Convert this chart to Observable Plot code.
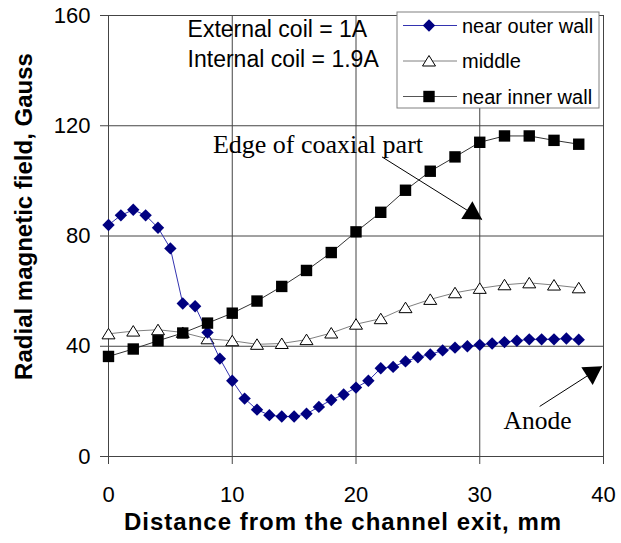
<!DOCTYPE html>
<html><head><meta charset="utf-8">
<script src="https://cdn.jsdelivr.net/npm/d3@7"></script>
<script src="https://cdn.jsdelivr.net/npm/@observablehq/plot@0.6"></script>
<style>body{margin:0;background:#fff;} svg{display:block;}</style>
</head><body><div id="chart"></div>
<script>
// ---- data ----
const xTicks = [0, 10, 20, 30, 40];
const yTicks = [0, 40, 80, 120, 160];
const seriesNames = ["near outer wall", "middle", "near inner wall"];

const outerX = [0,1,2,3,4,5,6,7,8,9,10,11,12,13,14,15,16,17,18,19,20,21,22,23,24,25,26,27,28,29,30,31,32,33,34,35,36,37,38];
const outerY = [84,87.5,89.5,87.5,83,75.5,55.5,54.5,45,35.5,27.5,21,17,15,14.5,14.5,15.5,18,20.5,22.5,25,27.5,32,32.5,34.5,36,37,38.5,39.5,40,40.5,41,41.5,42,42.5,42.5,42.5,42.8,42.4];

const middleX = [0,2,4,6,8,10,12,14,16,18,20,22,24,26,28,30,32,34,36,38];
const middleY = [44.5,45.5,46,45,42.7,42,40.7,41,42.4,44.8,48,50,54,57,59.4,61,62.3,63,62.2,61.2];

const innerX = [0,2,4,6,8,10,12,14,16,18,20,22,24,26,28,30,32,34,36,38];
const innerY = [36.3,39,42,44.8,48.4,52,56.4,61.7,67.5,74,81.5,88.6,96.6,103.5,108.7,114,116.3,116.3,114.7,113.3];

const noteLines = ["External coil = 1A", "Internal coil = 1.9A"];
const edgeLabel = "Edge of coaxial part";
const anodeLabel = "Anode";
const xTitle = "Distance from the channel exit, mm";
const yTitle = "Radial magnetic field, Gauss";

// ---- build tables ----
const outer = outerX.map((x, i) => ({x, y: outerY[i]}));
const middle = middleX.map((x, i) => ({x, y: middleY[i]}));
const inner = innerX.map((x, i) => ({x, y: innerY[i]}));

// ---- symbols ----
const diamondSym = {draw(c){ const s = 6.2; c.moveTo(0,-s); c.lineTo(s,0); c.lineTo(0,s); c.lineTo(-s,0); c.closePath(); }};
const squareSym = {draw(c){ const s = 5.7; c.moveTo(-s,-s); c.lineTo(s,-s); c.lineTo(s,s); c.lineTo(-s,s); c.closePath(); }};
const triSym = {draw(c){ c.moveTo(0,-5.5); c.lineTo(6.5,5); c.lineTo(-6.5,5); c.closePath(); }};
function headSym(angleDeg){
  const a = angleDeg * Math.PI / 180, ux = Math.cos(a), uy = Math.sin(a), px = -uy, py = ux;
  const L = 18, W = 10.5;
  return {draw(c){ c.moveTo(0,0); c.lineTo(-L*ux + W*px, -L*uy + W*py); c.lineTo(-L*ux - W*px, -L*uy - W*py); c.closePath(); }};
}

const sans = "'Liberation Sans', Arial, sans-serif";
const serif = "'Liberation Serif', 'Times New Roman', serif";
const gridColor = "#444";

const chart = Plot.plot({
  width: 621, height: 543,
  marginLeft: 108, marginRight: 18, marginTop: 15, marginBottom: 87,
  style: {fontFamily: sans, background: "white", color: "black", overflow: "visible"},
  x: {domain: [0, 40]},
  y: {domain: [0, 160]},
  marks: [
    Plot.gridX({ticks: xTicks, stroke: gridColor, strokeOpacity: 1}),
    Plot.gridY({ticks: yTicks, stroke: gridColor, strokeOpacity: 1}),
    Plot.axisX({ticks: xTicks, tickSize: 8, tickPadding: 22, fontSize: 22, label: null, stroke: gridColor, fill: "black"}),
    Plot.axisY({ticks: yTicks, tickSize: 8, tickPadding: 10, fontSize: 22, label: null, stroke: gridColor, fill: "black"}),
    // series
    Plot.line(middle, {x: "x", y: "y", stroke: "#808080", strokeWidth: 1}),
    Plot.dot(middle, {x: "x", y: "y", symbol: triSym, fill: "white", stroke: "black", strokeWidth: 1}),
    Plot.line(outer, {x: "x", y: "y", stroke: "#3333b0", strokeWidth: 1}),
    Plot.dot(outer, {x: "x", y: "y", symbol: diamondSym, fill: "#000080", stroke: "none"}),
    Plot.line(inner, {x: "x", y: "y", stroke: "#333", strokeWidth: 1}),
    Plot.dot(inner, {x: "x", y: "y", symbol: squareSym, fill: "black", stroke: "none"}),
    // annotations
    Plot.text([noteLines[0]], {x: 6.39, y: 154.8, text: d => d, textAnchor: "start", fontSize: 23, fill: "black"}),
    Plot.text([noteLines[1]], {x: 6.39, y: 143.9, text: d => d, textAnchor: "start", fontSize: 23, fill: "black"}),
    Plot.text([edgeLabel], {x: 8.44, y: 113.3, text: d => d, textAnchor: "start", fontSize: 26, fontFamily: serif, fill: "black"}),
    Plot.text([anodeLabel], {x: 31.92, y: 12.9, text: d => d, textAnchor: "start", fontSize: 25.5, fontFamily: serif, fill: "black"}),
    Plot.link([0], {x1: 22.1, y1: 108.7, x2: 30.19, y2: 85.95, stroke: "black", strokeWidth: 1}),
    Plot.dot([0], {x: 30.19, y: 85.95, symbol: headSym(32), fill: "black", stroke: "none"}),
    Plot.link([0], {x1: 34.84, y1: 18.16, x2: 39.89, y2: 32.7, stroke: "black", strokeWidth: 1}),
    Plot.dot([0], {x: 39.89, y: 32.7, symbol: headSym(-32.7), fill: "black", stroke: "none"}),
    // axis titles
    Plot.text([xTitle], {frameAnchor: "bottom", dx: -13, dy: 66, text: d => d, fontSize: 24, fontWeight: "bold", fill: "black", lineAnchor: "middle", textAnchor: "middle"}),
    Plot.text([yTitle], {frameAnchor: "left", dx: -84, dy: -19.5, rotate: -90, text: d => d, fontSize: 24, fontWeight: "bold", fill: "black", lineAnchor: "middle", textAnchor: "middle"})
  ]
});

document.getElementById("chart").appendChild(chart);

// letter spacing on x title
d3.select(chart).selectAll("text").filter(function(){ return this.textContent === xTitle; }).style("letter-spacing", "1px");

// ---- legend (inside plot, top right) ----
const svg = d3.select(chart);
const lg = svg.append("g").attr("font-family", sans).attr("font-size", 20).attr("text-anchor", "start");
lg.append("rect").attr("x", 397).attr("y", 12).attr("width", 202).attr("height", 96)
  .attr("fill", "white").attr("stroke", "#808080").attr("stroke-width", 1);
const legendItems = [
  {name: seriesNames[0], line: "#3333b0", sym: diamondSym, fill: "#000080", stroke: "none"},
  {name: seriesNames[1], line: "#808080", sym: triSym, fill: "white", stroke: "black"},
  {name: seriesNames[2], line: "#555", sym: squareSym, fill: "black", stroke: "none"}
];
legendItems.forEach((it, i) => {
  const cy = 25.5 + i * 35.5;
  lg.append("line").attr("x1", 403).attr("x2", 457).attr("y1", cy).attr("y2", cy).attr("stroke", it.line).attr("stroke-width", 1);
  lg.append("path").attr("d", d3.symbol().type(it.sym)()).attr("transform", `translate(429,${cy})`)
    .attr("fill", it.fill).attr("stroke", it.stroke);
  lg.append("text").attr("x", 462).attr("y", cy).attr("dy", "0.35em").attr("fill", "black").attr("text-anchor", "start").text(it.name);
});
</script>
</body></html>
